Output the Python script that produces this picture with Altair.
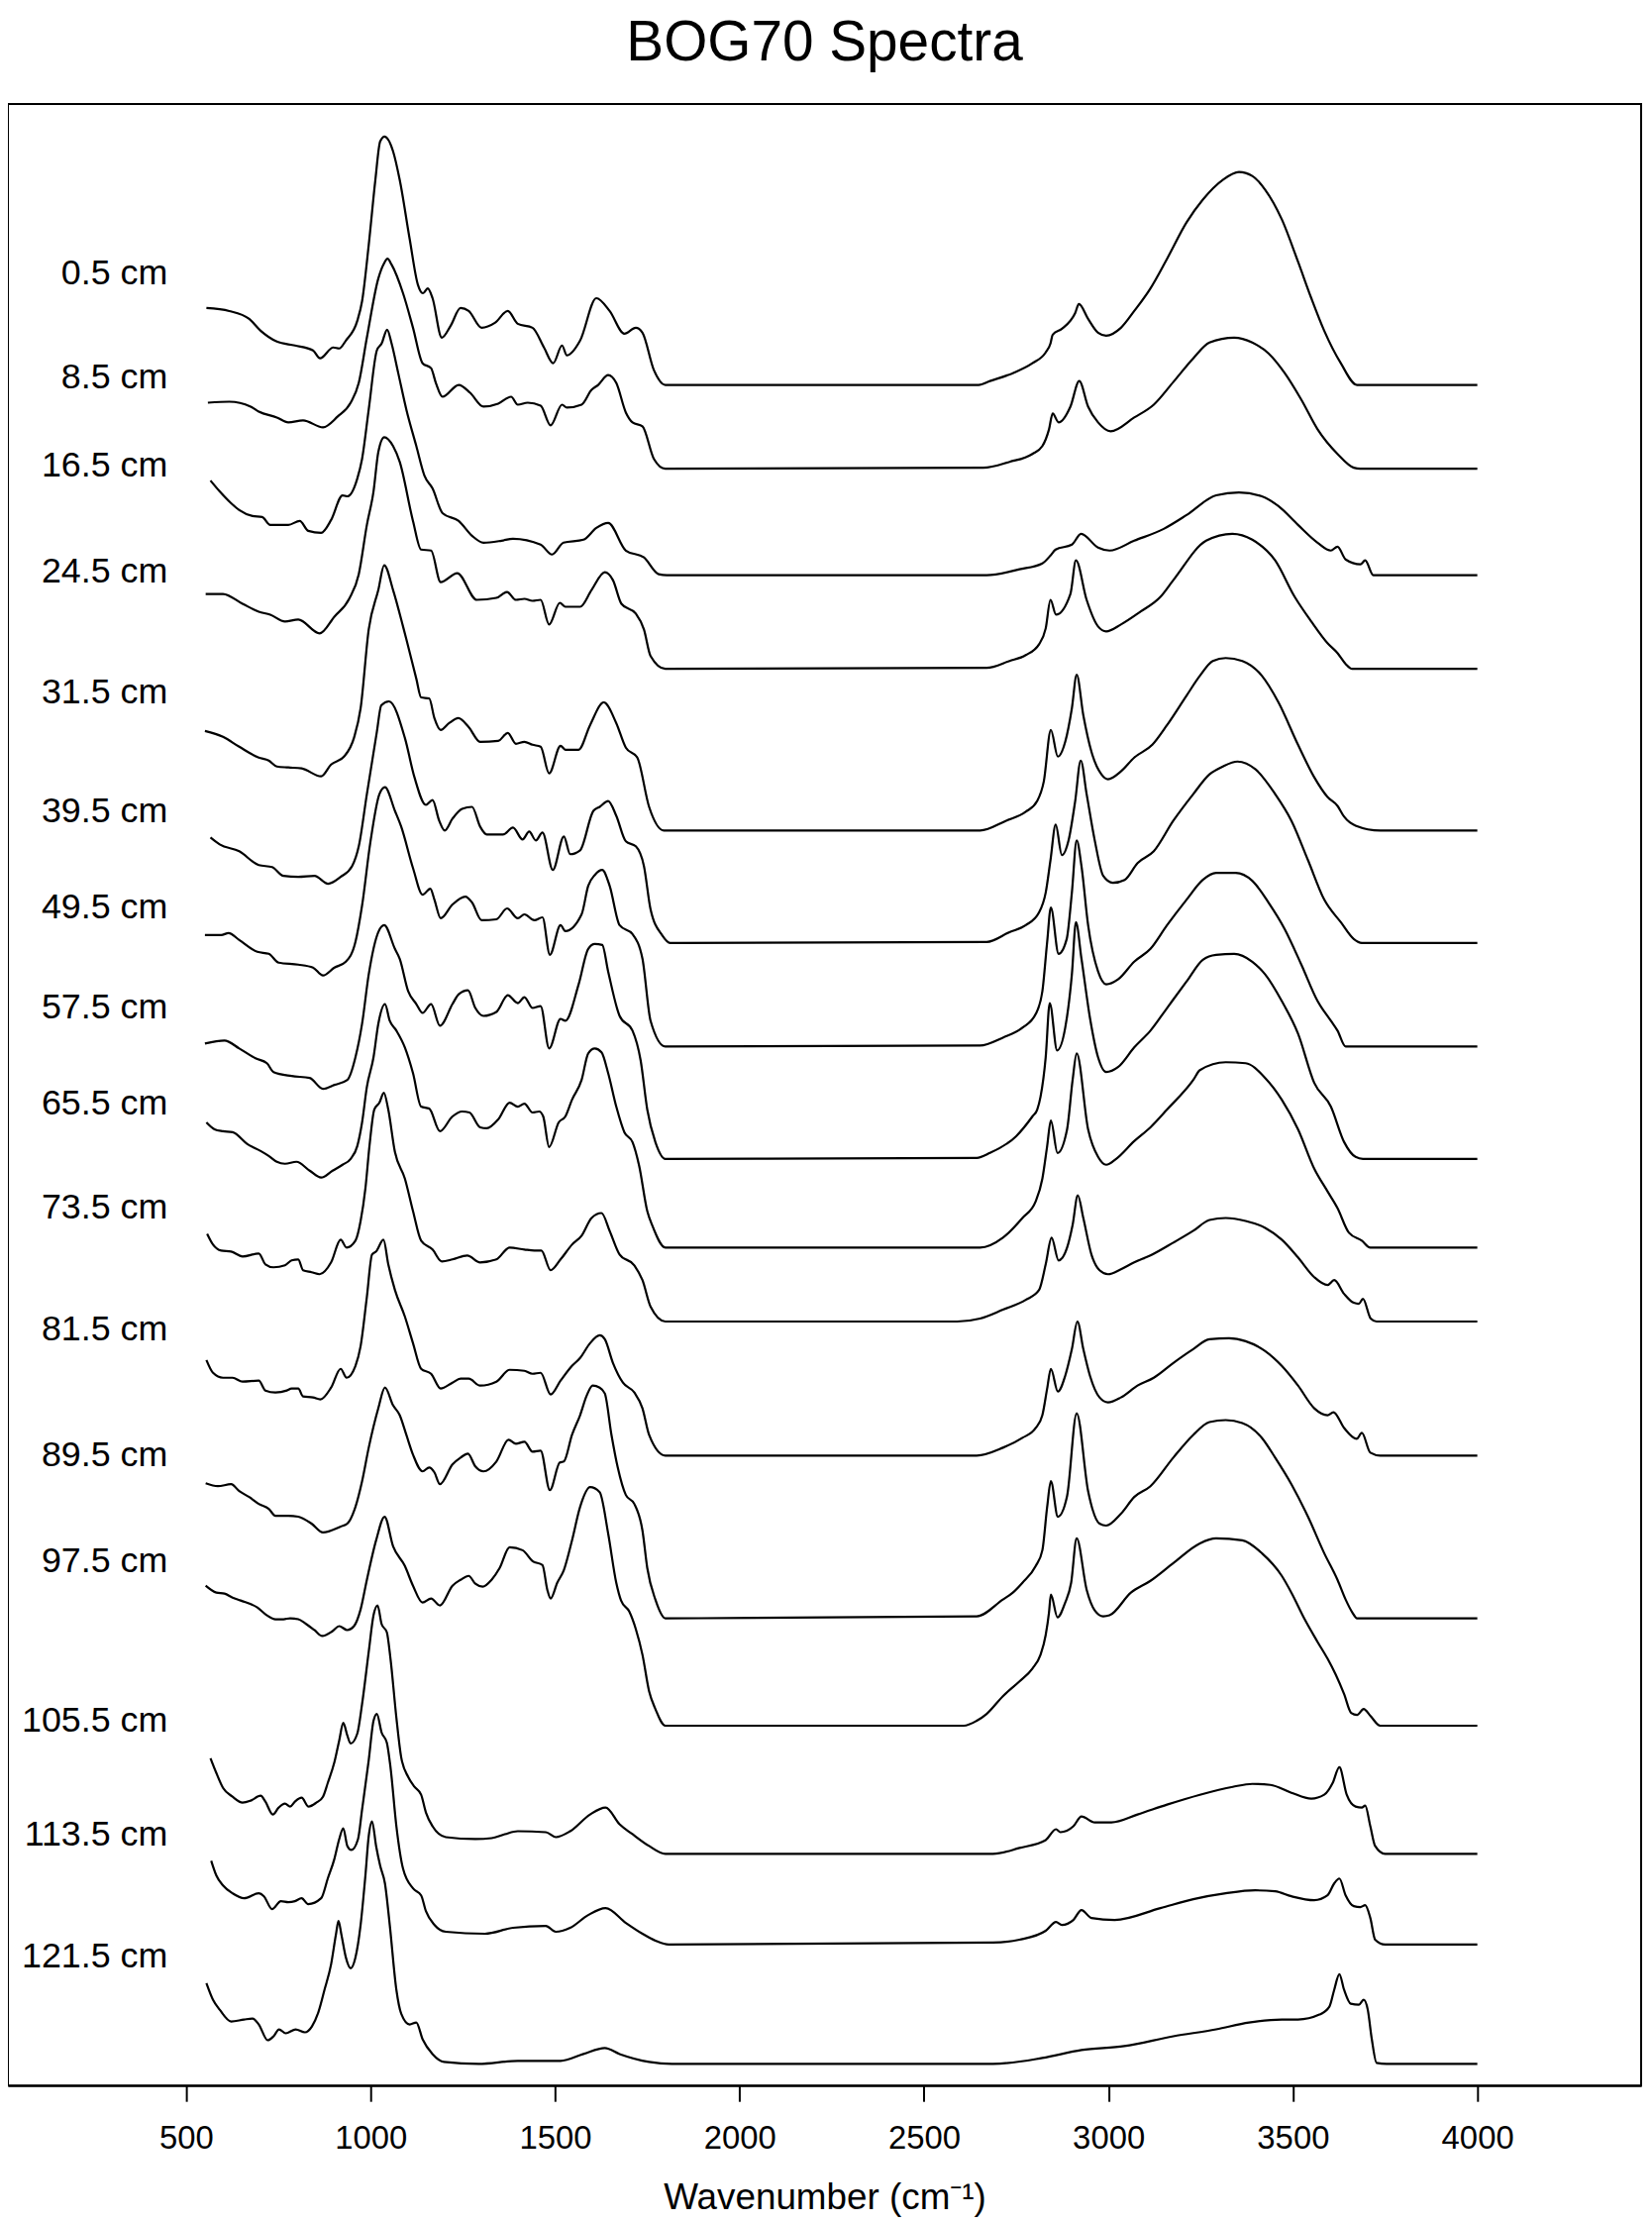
import altair as alt
import pandas as pd

# ---- depth labels, vertical offsets and label levels (arbitrary stacked units) ----
depths = ["0.5 cm", "8.5 cm", "16.5 cm", "24.5 cm", "31.5 cm", "39.5 cm", "49.5 cm", "57.5 cm",
          "65.5 cm", "73.5 cm", "81.5 cm", "89.5 cm", "97.5 cm", "105.5 cm", "113.5 cm", "121.5 cm"]
offsets = [1725, 1640, 1532, 1437, 1273, 1159, 1054, 940, 850, 775, 639, 474, 365, 235, 143, 22]
label_levels = [1838, 1733, 1643, 1536, 1413, 1292, 1195, 1093, 996, 890, 767, 639, 532, 370, 254, 131]
LABEL_WN = 450
x_ticks = [500, 1000, 1500, 2000, 2500, 3000, 3500, 4000]

# ---- spectra: wavenumber (cm-1) and absorbance (a.u.) ----
s05_wn = [555,617,671,702,746,795,844,863,899,915,933,964,977,995,1013,1026,1038,1061,1079,1106,1128,1142,1155,1168,1193,1217,1244,1266,1301,1337,1372,1399,1439,1470,1495,1519,1532,1568,1612,1648,1688,1719,1737,1768,1799,2648,2679,2741,2794,2830,2843,2849,2874,2910,2920,2945,2972,2994,3034,3070,3114,3159,3212,3256,3310,3354,3390,3425,3470,3514,3550,3585,3630,3674,4000]
s05_ab = [78,75,67,55,44,40,35,27,38,37,45,65,85,142,208,247,252,237,208,148,102,93,98,88,48,60,78,75,58,63,75,62,58,38,22,40,30,45,88,75,52,58,53,15,0,0,4,12,22,33,42,51,57,73,82,67,53,50,58,75,98,128,165,188,208,216,212,198,168,125,88,55,22,0,0]

s85_wn = [559,617,675,697,746,777,817,871,911,946,968,990,1021,1036,1046,1057,1088,1115,1141,1164,1177,1195,1239,1270,1306,1346,1381,1399,1426,1461,1488,1519,1532,1572,1599,1617,1644,1666,1692,1710,1737,1768,1799,2661,2732,2794,2821,2839,2849,2865,2897,2921,2945,2972,3006,3070,3123,3176,3230,3274,3341,3390,3434,3478,3523,3567,3621,3665,3683,4000]
s85_ab = [67,68,63,58,52,47,49,42,53,67,87,133,193,208,213,207,178,143,107,102,87,73,85,77,63,66,73,65,67,64,44,65,62,65,80,85,95,87,57,47,43,10,0,1,7,15,23,40,56,47,63,89,63,47,38,52,65,88,112,128,133,128,117,97,70,40,15,1,0,0]

s165_wn = [566,591,622,644,680,706,728,777,808,831,866,893,924,937,964,977,995,1017,1030,1045,1057,1075,1097,1124,1146,1168,1195,1239,1275,1306,1355,1386,1461,1492,1523,1577,1612,1644,1692,1741,1781,1803,2670,2759,2821,2843,2857,2901,2926,2972,3003,3070,3150,3212,3292,3354,3416,3461,3514,3567,3603,3621,3643,3683,3696,3718,4000]
s165_ab = [96,85,73,66,60,59,51,51,55,45,43,56,81,80,98,118,168,228,235,249,235,205,168,131,101,88,63,55,40,33,35,37,31,21,33,36,48,53,25,18,1,0,0,6,12,20,26,31,42,28,25,35,47,61,81,84,80,70,51,33,25,29,16,11,15,0,0]

s245_wn = [553,600,653,697,728,768,804,862,902,942,968,990,1008,1021,1037,1061,1079,1115,1137,1164,1190,1235,1288,1341,1370,1394,1417,1439,1461,1484,1513,1528,1568,1599,1635,1657,1680,1719,1741,1759,1799,2670,2732,2776,2812,2830,2843,2858,2897,2912,2941,2972,2994,3034,3087,3141,3176,3265,3336,3390,3452,3505,3550,3594,3621,3643,3661,4000]
s245_ab = [76,76,66,58,55,48,50,36,53,71,96,146,180,220,235,226,210,150,121,120,88,97,70,72,78,70,71,69,70,45,67,63,63,80,98,90,66,56,40,13,0,1,8,14,25,41,70,55,76,110,70,43,38,45,58,73,90,130,137,131,110,73,48,26,16,5,0,0]

s315_wn = [551,600,644,697,724,746,777,813,866,893,928,955,973,995,1021,1037,1061,1088,1097,1124,1137,1159,1173,1190,1213,1238,1266,1297,1346,1372,1394,1417,1439,1461,1484,1515,1528,1564,1595,1632,1666,1692,1723,1755,1795,2652,2723,2776,2807,2825,2844,2863,2883,2901,2914,2932,2954,2981,2999,3034,3070,3119,3159,3212,3248,3283,3318,3363,3416,3461,3514,3558,3594,3621,3639,3670,3737,4000]
s315_ab = [101,95,85,74,71,65,64,63,55,67,75,94,124,204,244,269,244,207,194,154,135,134,114,102,109,114,105,90,91,99,88,90,87,85,58,86,82,82,107,130,109,84,74,24,0,0,10,19,30,50,102,75,90,124,158,117,80,57,52,60,74,87,107,137,157,172,175,172,157,130,87,54,34,25,14,5,0,0]

s395_wn = [566,591,644,697,733,764,804,848,885,919,950,968,990,1017,1029,1050,1093,1119,1150,1168,1186,1201,1222,1248,1275,1297,1315,1359,1386,1412,1430,1448,1466,1494,1524,1541,1568,1604,1621,1644,1666,1692,1719,1741,1759,1790,1812,2670,2732,2776,2812,2830,2843,2857,2874,2892,2910,2925,2941,2963,2986,3012,3044,3079,3123,3176,3230,3274,3310,3350,3399,3452,3496,3541,3585,3630,3665,3687,4000]
s395_ab = [107,100,93,79,77,68,67,68,60,67,78,98,151,214,241,245,208,168,140,145,124,114,126,136,138,118,110,110,117,105,113,104,112,74,108,90,94,134,138,144,129,103,98,78,34,8,0,1,11,18,31,51,84,120,89,104,144,185,151,104,68,61,64,81,93,124,151,171,179,184,176,151,124,84,44,21,4,0,0]

s495_wn = [551,595,615,644,693,724,751,804,844,871,902,933,959,977,999,1024,1039,1066,1083,1115,1141,1162,1173,1190,1222,1257,1275,1301,1341,1370,1399,1417,1444,1466,1486,1515,1528,1572,1590,1608,1628,1648,1675,1710,1737,1759,1799,2652,2714,2767,2803,2821,2834,2844,2865,2887,2901,2914,2927,2945,2972,2994,3026,3070,3114,3159,3212,3256,3292,3345,3390,3434,3478,3523,3567,3603,3621,3643,4000]
s495_ab = [113,113,115,108,96,94,85,83,80,72,80,86,106,143,206,256,263,239,223,181,154,160,149,130,144,152,146,128,129,140,130,134,128,131,93,123,117,134,163,174,179,163,123,114,89,26,0,1,9,19,33,56,106,141,94,109,156,209,183,123,76,63,68,86,99,123,149,169,176,176,168,146,119,83,46,26,16,0,0]

s575_wn = [551,604,644,688,719,737,786,835,871,902,937,959,977,995,1021,1037,1066,1079,1102,1124,1141,1164,1188,1222,1239,1264,1284,1306,1341,1372,1399,1417,1439,1461,1484,1515,1528,1564,1590,1608,1628,1644,1675,1710,1732,1750,1772,1799,2643,2679,2750,2794,2807,2816,2830,2841,2861,2883,2901,2912,2927,2950,2972,2994,3026,3070,3114,3159,3212,3256,3292,3341,3390,3425,3470,3514,3558,3603,3639,3670,3690,4000]
s575_ab = [117,120,112,102,97,88,84,82,71,75,80,103,137,187,230,237,213,203,170,157,148,157,135,157,167,171,153,145,149,166,158,164,153,155,112,142,140,177,213,218,217,190,145,130,100,50,17,0,1,6,23,43,50,63,103,158,110,133,187,240,203,143,103,88,93,113,130,153,180,202,207,208,200,187,160,127,77,53,17,2,0,0]

s655_wn = [555,577,600,626,666,702,724,746,768,799,835,866,897,924,946,964,977,990,1008,1021,1039,1052,1070,1093,1115,1137,1159,1188,1222,1248,1268,1297,1315,1346,1377,1399,1417,1439,1457,1468,1484,1510,1528,1546,1572,1590,1608,1626,1644,1666,1688,1710,1728,1750,1764,1799,2652,2714,2767,2803,2821,2834,2844,2862,2888,2903,2914,2945,2972,2994,3021,3070,3114,3159,3230,3248,3318,3372,3425,3470,3514,3558,3594,3621,3652,3687,3710,4000]
s655_ab = [127,120,118,117,105,98,93,87,85,87,78,71,78,84,90,103,127,163,193,227,247,230,220,203,177,143,141,118,133,138,137,122,121,130,147,143,146,137,138,133,102,127,133,150,170,197,202,198,177,143,117,107,83,37,22,0,0,10,30,47,70,103,129,96,120,170,197,120,92,84,90,108,122,140,170,180,188,187,172,150,120,80,57,40,15,7,0,0]

s735_wn = [557,573,595,622,653,697,715,737,768,786,804,817,840,862,893,919,935,959,973,986,997,1010,1024,1036,1048,1066,1093,1115,1137,1168,1193,1222,1262,1297,1341,1377,1417,1444,1463,1488,1515,1546,1572,1599,1626,1648,1675,1715,1737,1759,1799,2590,2652,2714,2776,2812,2830,2846,2865,2888,2903,2917,2932,2954,2976,2999,3034,3070,3114,3176,3230,3274,3318,3372,3425,3470,3514,3558,3594,3612,3639,3665,3679,3690,3711,3727,4000]
s735_ab = [89,78,72,71,66,69,58,55,57,62,63,52,50,48,60,83,75,82,102,135,178,215,222,232,215,172,145,112,82,73,61,63,67,60,63,75,73,72,72,52,63,78,87,105,110,92,68,57,42,15,0,0,3,12,22,32,58,85,62,75,98,128,105,68,52,48,53,60,67,80,92,103,105,102,95,83,65,45,37,42,28,19,18,23,3,0,0]

s815_wn = [555,573,600,626,653,697,715,742,773,786,804,817,844,864,893,919,935,959,973,990,1004,1015,1035,1048,1066,1093,1115,1137,1164,1190,1222,1244,1266,1297,1341,1377,1417,1439,1461,1488,1515,1546,1568,1595,1621,1635,1657,1684,1715,1737,1755,1799,2643,2714,2767,2803,2821,2834,2844,2863,2883,2901,2916,2932,2950,2976,2999,3034,3079,3123,3176,3230,3274,3327,3372,3425,3470,3514,3558,3594,3610,3639,3673,3687,3710,3737,4000]
s815_ab = [97,84,79,79,75,76,66,64,66,68,68,60,59,57,69,88,79,91,111,161,204,207,219,194,168,141,114,88,83,68,74,78,78,71,75,87,86,83,84,62,76,91,99,114,122,118,94,74,64,48,21,0,0,8,18,28,41,68,88,65,81,108,136,108,81,59,54,59,71,79,94,108,118,119,116,106,91,71,48,41,44,28,17,23,3,0,0]

s895_wn = [553,586,622,644,671,697,724,742,777,804,840,871,919,937,959,977,995,1021,1039,1061,1079,1097,1115,1141,1159,1173,1188,1222,1244,1264,1284,1306,1341,1374,1394,1417,1439,1461,1486,1513,1524,1546,1568,1586,1602,1621,1635,1653,1670,1692,1715,1737,1750,1772,1799,2643,2714,2741,2767,2803,2821,2834,2844,2863,2888,2914,2945,2976,2994,3034,3070,3114,3176,3230,3274,3318,3363,3416,3452,3496,3541,3585,3621,3643,3661,3674,4000]
s895_ab = [137,134,136,129,123,116,111,104,104,103,96,87,93,96,113,139,173,213,234,216,206,186,166,149,153,148,136,156,163,167,154,149,159,181,177,179,169,170,130,158,159,186,206,226,236,234,228,186,153,125,116,89,51,19,0,2,19,26,36,53,69,113,139,103,124,208,129,96,94,106,123,134,163,186,199,201,198,183,163,136,103,66,39,19,6,0,0]

s975_wn = [553,582,604,626,648,693,719,742,764,782,804,826,848,869,897,915,937,955,973,990,1015,1038,1061,1093,1115,1141,1164,1188,1222,1244,1266,1284,1304,1328,1350,1377,1412,1439,1466,1479,1488,1506,1524,1546,1568,1595,1621,1644,1666,1679,1701,1719,1737,1755,1772,1799,2608,2643,2670,2714,2759,2794,2816,2830,2839,2844,2862,2883,2899,2914,2941,2963,2986,3003,3061,3114,3176,3248,3292,3363,3416,3470,3496,3532,3567,3594,3616,3639,3658,3674,3692,3710,3737,4000]
s975_ab = [142,135,134,130,127,120,112,108,108,109,108,103,97,91,96,101,97,101,118,148,188,212,182,162,142,125,129,122,142,148,152,144,141,148,160,181,178,167,163,138,129,145,158,188,222,242,237,195,145,127,116,98,72,35,17,0,0,5,12,30,45,58,72,92,115,133,110,125,145,190,138,117,111,112,135,147,165,185,190,188,175,152,135,108,85,68,52,32,13,11,17,10,0,0]

s1055_wn = [566,582,600,626,653,675,702,715,735,751,768,782,795,813,832,853,871,884,902,915,926,937,946,964,977,995,1008,1019,1030,1044,1054,1070,1083,1102,1119,1137,1150,1168,1204,1284,1328,1364,1399,1475,1502,1541,1595,1637,1675,1710,1755,1799,2687,2759,2830,2858,2870,2905,2927,2963,3008,3079,3159,3248,3337,3390,3439,3496,3550,3585,3608,3626,3646,3670,3687,3696,3710,3723,3750,4000]
s1055_ab = [97,82,67,58,52,54,59,53,40,47,51,48,53,57,48,52,58,72,93,115,133,120,112,122,152,205,242,252,233,225,198,138,98,78,68,60,42,28,17,15,16,20,23,22,17,23,40,47,30,20,8,0,0,6,14,25,22,28,38,32,32,40,50,60,68,71,70,62,56,60,72,88,60,48,47,49,28,8,0,0]

s1135_wn = [568,582,600,626,657,697,711,733,757,777,795,813,831,866,884,902,915,926,937,948,966,977,995,1008,1017,1030,1044,1054,1070,1088,1115,1137,1150,1173,1204,1310,1386,1475,1502,1541,1590,1637,1692,1737,1772,1808,2687,2759,2830,2858,2874,2905,2927,2954,3017,3141,3230,3318,3398,3452,3496,3558,3594,3612,3626,3643,3665,3683,3696,3710,3723,3750,4000]
s1135_ab = [85,70,60,52,47,52,49,36,44,43,44,47,41,47,67,87,107,118,100,96,107,137,187,227,234,215,205,180,120,77,57,50,34,20,13,11,17,19,13,17,30,37,22,11,4,0,2,5,14,23,20,25,35,27,25,37,46,52,55,54,49,45,50,62,67,50,39,38,40,27,5,0,0]

s1215_wn = [555,573,591,622,657,680,697,721,737,752,770,797,822,841,859,875,893,906,913,921,933,946,959,973,986,995,1004,1015,1026,1039,1052,1070,1083,1106,1124,1141,1168,1199,1293,1399,1515,1577,1635,1675,1755,1817,2687,2821,2927,3043,3176,3292,3381,3470,3514,3572,3599,3612,3626,3639,3657,3679,3692,3703,3714,3727,3754,4000]
s1215_ab = [82,65,55,43,45,46,40,24,28,35,31,35,32,38,53,75,101,131,145,131,108,97,108,141,191,231,246,221,201,183,141,75,51,40,42,25,10,2,0,3,3,10,16,10,2,0,0,6,14,18,28,35,42,45,45,50,58,75,91,75,61,60,65,55,25,1,0,0]

spectra = [(s05_wn, s05_ab), (s85_wn, s85_ab), (s165_wn, s165_ab), (s245_wn, s245_ab),
           (s315_wn, s315_ab), (s395_wn, s395_ab), (s495_wn, s495_ab), (s575_wn, s575_ab),
           (s655_wn, s655_ab), (s735_wn, s735_ab), (s815_wn, s815_ab), (s895_wn, s895_ab),
           (s975_wn, s975_ab), (s1055_wn, s1055_ab), (s1135_wn, s1135_ab), (s1215_wn, s1215_ab)]

rows = []
for depth, off, (wn, ab) in zip(depths, offsets, spectra):
    for k, (w, a) in enumerate(zip(wn, ab)):
        rows.append({"depth": depth, "k": k, "wavenumber": w, "stacked": a + off})
df = pd.DataFrame(rows)

labels = pd.DataFrame({"depth": depths,
                       "wavenumber": [LABEL_WN] * len(depths),
                       "stacked": label_levels})

FONT = "Liberation Sans"
xscale = alt.Scale(domain=[17, 4444], nice=False, zero=False)
yscale = alt.Scale(domain=[0, 2010], nice=False, zero=False)

lines = alt.Chart(df).mark_line(color="black", strokeWidth=2.2, interpolate="monotone").encode(
    x=alt.X("wavenumber:Q", scale=xscale,
            axis=alt.Axis(values=x_ticks, title="Wavenumber (cm\u207b\u00b9)", grid=False,
                          format="d")),
    y=alt.Y("stacked:Q", scale=yscale, axis=None),
    detail="depth:N",
    order="k:Q",
)

text = alt.Chart(labels).mark_text(align="right", baseline="middle", fontSize=36,
                                   font=FONT, color="black").encode(
    x=alt.X("wavenumber:Q", scale=xscale),
    y=alt.Y("stacked:Q", scale=yscale, axis=None),
    text="depth:N",
)

chart = alt.layer(lines, text).properties(
    width=1657,
    height=2010,
    background="white",
    title=alt.TitleParams(text="BOG70 Spectra", fontSize=57, font=FONT, fontWeight="normal",
                          anchor="middle", offset=32, color="black"),
    autosize=alt.AutoSizeParams(type="none"),
    padding={"left": 0, "top": 92, "right": 3, "bottom": 135},
).configure_view(
    stroke="black", strokeWidth=2
).configure_axis(
    labelFont=FONT, labelFontSize=33, labelColor="black", labelPadding=22,
    titleFont=FONT, titleFontSize=37, titleFontWeight="normal", titleColor="black", titlePadding=25,
    tickColor="black", tickSize=16, tickWidth=2, domainColor="black", domainWidth=2,
)

chart.save("out.html", embed_options={"renderer": "svg", "actions": False})
